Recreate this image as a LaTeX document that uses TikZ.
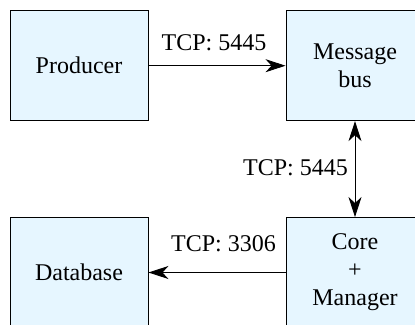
\documentclass[tikz,border=0pt]{standalone}
\usepackage{fontspec}
\setmainfont{Liberation Serif}
\usetikzlibrary{arrows.meta}
\definecolor{boxblue}{HTML}{E6F6FF}
\begin{document}
\begin{tikzpicture}[x=1pt,y=-1pt,
  box/.style={draw, line width=0.9pt, fill=boxblue, minimum width=138pt,
    minimum height=110pt, align=center, inner sep=0pt,
    font=\fontsize{24}{28}\selectfont},
  tip/.tip={Stealth[length=20pt,width=13pt,inset=6pt]},
  link/.style={line width=0.9pt},
  lbl/.style={font=\fontsize{24}{28}\selectfont, inner sep=0pt}]
\useasboundingbox (0,0) rectangle (415,324);

% components
\node[box] (prod) at (79,65.7) {Producer};
\node[box] (bus)  at (355,65.7) {Message\\bus};
\node[box] (db)   at (79,272.5) {Database};
\node[box] (core) at (355,272.5) {Core\\+\\Manager};

% connections
\draw[link,-tip] (prod) -- (bus);
\draw[link,tip-tip] (bus) -- (core);
\draw[link,-tip] (core) -- (db);

% port labels
\node[lbl, anchor=base] (l1) at (214,50) {TCP: 5445};
\node[lbl, anchor=base east] (l2) at (348,175) {TCP: 5445};
\node[lbl, anchor=base east] (l3) at (276,251) {TCP: 3306};
\end{tikzpicture}
\end{document}
